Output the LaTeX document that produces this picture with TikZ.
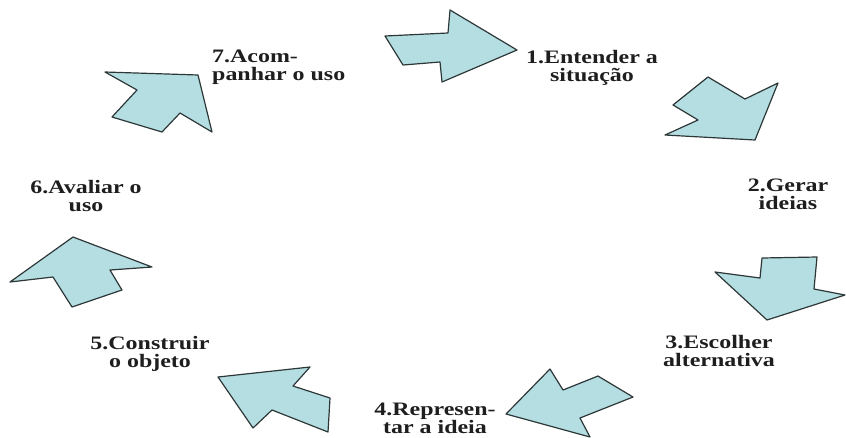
\documentclass[tikz,border=0pt]{standalone}
\usepackage{fontspec}
\setmainfont{Liberation Serif}[FakeStretch=1.26]
\definecolor{arrowfill}{RGB}{180,222,226}
\definecolor{arrowline}{RGB}{45,55,55}
\definecolor{labeltext}{RGB}{30,30,30}
\begin{document}
\begin{tikzpicture}[x=1pt,y=-1pt,
  blockarrow/.style={fill=arrowfill,draw=arrowline,line width=1.2pt,line join=round},
  steplabel/.style={inner sep=0pt,text=labeltext,font=\bfseries\fontsize{19}{18}\selectfont}]
\useasboundingbox (0,0) rectangle (846,437);
% arrows
\draw[blockarrow] (385,36) -- (448,33) -- (450,10) -- (517,50) -- (442,82) -- (440,62) -- (403,65) -- cycle;
\draw[blockarrow] (708,77) -- (745,99) -- (778,83) -- (755,140) -- (665,135) -- (698,120) -- (673,105) -- cycle;
\draw[blockarrow] (762,258) -- (817,257) -- (814,289) -- (845,295) -- (767,320) -- (715,272) -- (760,278) -- cycle;
\draw[blockarrow] (506,414) -- (550,369) -- (563,390) -- (598,376) -- (633,397) -- (580,418) -- (590,437) -- cycle;
\draw[blockarrow] (218,377) -- (310,367) -- (293,386) -- (330,398) -- (328,432) -- (272,410) -- (253,428) -- cycle;
\draw[blockarrow] (73,237) -- (152,267) -- (110,270) -- (122,290) -- (72,307) -- (53,277) -- (10,282) -- cycle;
\draw[blockarrow] (105,72) -- (198,75) -- (212,132) -- (180,113) -- (162,132) -- (112,117) -- (137,90) -- cycle;
% labels
\node[steplabel,align=center,anchor=north] (s1) at (592,50) {1.Entender a\\situação};
\node[steplabel,align=center,anchor=north] (s2) at (788,179) {2.Gerar\\ideias};
\node[steplabel,align=center,anchor=north] (s3) at (719,335) {3.Escolher\\alternativa};
\node[steplabel,align=center,anchor=north] (s4) at (435,403) {4.Represen-\\tar a ideia};
\node[steplabel,align=center,anchor=north] (s5) at (150,336) {5.Construir\\o objeto};
\node[steplabel,align=center,anchor=north] (s6) at (86,180) {6.Avaliar o\\uso};
\node[steplabel,align=left,anchor=north west] (s7) at (212,50) {7.Acom-\\panhar o uso};
\end{tikzpicture}
\end{document}
